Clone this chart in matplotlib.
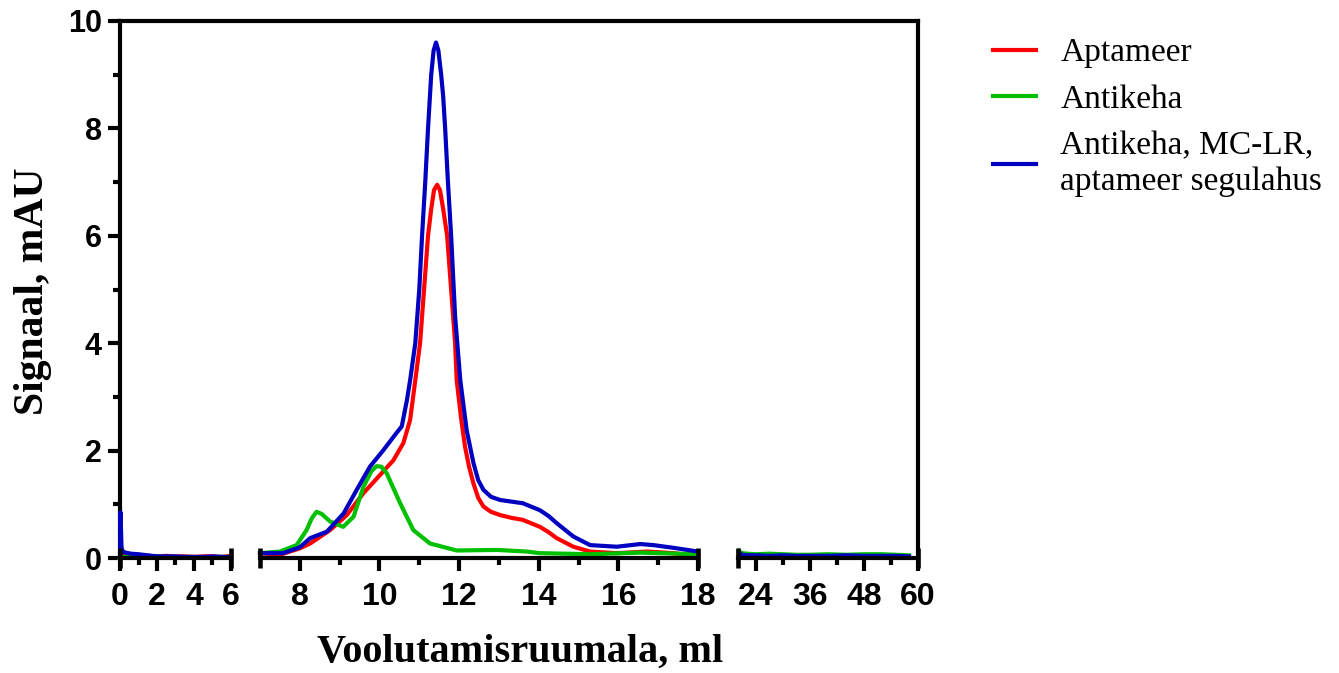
import numpy as np
import matplotlib.pyplot as plt

# elution volume (ml) and signal (mAU), per axis segment
# segment 1: 0-6 ml
x_seg1 = [0.0, 0.03, 0.08, 0.15, 0.3, 0.6, 1.0, 1.5, 2.0, 2.5, 3.0, 3.5, 4.0, 4.5, 5.0, 5.5, 6.0]
apt_seg1 = [0.0, 0.06, 0.12, 0.1, 0.08, 0.06, 0.05, 0.04, 0.03, 0.04, 0.03, 0.03, 0.02, 0.03, 0.03, 0.02, 0.04]
ab_seg1 = [-0.02, -0.01, 0.01, 0.02, 0.02, 0.02, 0.02, 0.02, 0.03, 0.02, 0.02, 0.02, 0.02, 0.01, 0.02, 0.02, 0.02]
mix_seg1 = [0.05, 0.85, 0.2, 0.12, 0.1, 0.08, 0.07, 0.05, 0.03, 0.03, 0.03, 0.02, 0.02, 0.02, 0.03, 0.02, 0.02]

# segment 2: 7-18 ml
x_apt = [7.0, 7.5, 8.0, 8.26, 8.76, 9.18, 9.6, 10.02, 10.35, 10.6, 10.77, 10.9, 11.02, 11.12,
         11.22, 11.3, 11.37, 11.45, 11.52, 11.6, 11.7, 11.8, 11.9, 11.94, 12.05, 12.15, 12.25,
         12.36, 12.48, 12.61, 12.8, 13.03, 13.3, 13.6, 14.03, 14.25, 14.45, 14.87, 15.29,
         15.96, 16.72, 17.38, 18.0]
apt_seg2 = [0.09, 0.06, 0.18, 0.27, 0.52, 0.8, 1.21, 1.55, 1.82, 2.14, 2.57, 3.31, 4.0, 5.0,
            6.0, 6.5, 6.85, 6.95, 6.85, 6.5, 6.0, 5.0, 4.0, 3.31, 2.6, 2.07, 1.7,
            1.39, 1.12, 0.96, 0.86, 0.8, 0.75, 0.71, 0.58, 0.48, 0.37, 0.21, 0.12,
            0.09, 0.12, 0.09, 0.04]

x_ab = [7.0, 7.5, 7.92, 8.17, 8.3, 8.42, 8.55, 8.76, 9.09, 9.35, 9.6, 9.8, 9.93, 10.05, 10.18,
        10.52, 10.85, 11.27, 11.94, 12.95, 13.7, 14.03, 15.29, 16.55, 18.0]
ab_seg2 = [0.09, 0.12, 0.24, 0.52, 0.74, 0.86, 0.82, 0.68, 0.58, 0.77, 1.33, 1.62, 1.71, 1.7, 1.58,
           1.02, 0.52, 0.27, 0.14, 0.15, 0.12, 0.09, 0.07, 0.1, 0.07]

x_mix = [7.0, 7.58, 8.0, 8.26, 8.68, 9.1, 9.43, 9.76, 10.1, 10.43, 10.56, 10.69, 10.77, 10.9,
         11.0, 11.07, 11.15, 11.22, 11.3, 11.36, 11.42, 11.48, 11.55, 11.6, 11.65, 11.72, 11.8,
         11.9, 12.03, 12.19, 12.36, 12.48, 12.61, 12.8, 13.03, 13.6, 14.03, 14.25, 14.45, 14.87,
         15.29, 15.96, 16.55, 16.88, 17.38, 18.0]
mix_seg2 = [0.09, 0.09, 0.2, 0.37, 0.49, 0.83, 1.27, 1.7, 2.01, 2.33, 2.45, 2.94, 3.31, 4.0,
            5.0, 6.0, 7.0, 8.0, 9.0, 9.45, 9.6, 9.45, 9.0, 8.6, 8.0, 7.0, 6.0,
            4.5, 3.31, 2.38, 1.77, 1.45, 1.27, 1.14, 1.08, 1.02, 0.89, 0.78, 0.65, 0.4,
            0.24, 0.21, 0.26, 0.24, 0.19, 0.12]

# segment 3: 20-60 ml
x_seg3 = [20.2, 20.6, 21.0, 22.0, 24.0, 27.0, 30.0, 33.0, 36.0, 40.0, 44.0, 48.0, 52.0, 55.0, 58.0]
apt_seg3 = [0.06, 0.04, 0.03, 0.03, 0.02, 0.02, 0.02, 0.02, 0.02, 0.02, 0.02, 0.02, 0.02, 0.02, 0.02]
ab_seg3 = [0.14, 0.1, 0.09, 0.08, 0.07, 0.08, 0.07, 0.06, 0.06, 0.07, 0.06, 0.07, 0.07, 0.06, 0.05]
mix_seg3 = [0.11, 0.07, 0.06, 0.05, 0.05, 0.04, 0.05, 0.04, 0.04, 0.04, 0.05, 0.04, 0.04, 0.04, 0.03]

labels = ["Aptameer", "Antikeha", "Antikeha, MC-LR,\naptameer segulahus"]
colors = ["#ff0000", "#00c000", "#0000c0"]

segments = [
    (0, 6, [x_seg1] * 3, [apt_seg1, ab_seg1, mix_seg1], [0, 2, 4, 6], [1, 3, 5]),
    (7, 18, [x_apt, x_ab, x_mix], [apt_seg2, ab_seg2, mix_seg2], [8, 10, 12, 14, 16, 18],
     [9, 11, 13, 15, 17]),
    (20, 60, [x_seg3] * 3, [apt_seg3, ab_seg3, mix_seg3], [24, 36, 48, 60], [30, 42, 54]),
]
positions = [(120, 231), (260, 698), (738, 918)]

W, H = 1339, 673
fig = plt.figure(figsize=(W / 100, H / 100), dpi=100)
top, bottom = 21, 558
lw_axis = 3.0

# frame: left, top and right spines spanning all segments
frame = fig.add_axes([120 / W, 1 - bottom / H, (918 - 120) / W, (bottom - top) / H])
frame.set_ylim(0, 10)
frame.set_xticks([])
frame.spines["bottom"].set_visible(False)
for s in ["left", "top", "right"]:
    frame.spines[s].set_linewidth(lw_axis)
frame.set_yticks([0, 2, 4, 6, 8, 10])
frame.set_yticks([1, 3, 5, 7, 9], minor=True)
frame.tick_params(axis="y", which="major", length=9, width=lw_axis, pad=4, labelsize=22)
frame.tick_params(axis="y", which="minor", length=5, width=lw_axis)
for t in frame.get_yticklabels():
    t.set_fontfamily("Liberation Sans")
    t.set_fontweight("bold")

handles = []
for (x0, x1, xs, ys, major, minor), (p0, p1) in zip(segments, positions):
    ax = fig.add_axes([p0 / W, 1 - bottom / H, (p1 - p0) / W, (bottom - top) / H])
    ax.patch.set_visible(False)
    for s in ["left", "top", "right"]:
        ax.spines[s].set_visible(False)
    ax.spines["bottom"].set_linewidth(lw_axis)
    ax.set_xlim(x0, x1)
    ax.set_ylim(0, 10)
    ax.set_yticks([])
    handles = []
    for x, y, c, lab in zip(xs, ys, colors, labels):
        (ln,) = ax.plot(x, y, color=c, lw=3.0, label=lab, clip_on=False,
                        solid_joinstyle="round")
        handles.append(ln)
    ax.set_xticks(major)
    ax.set_xticks(minor, minor=True)
    ax.tick_params(axis="x", which="major", length=9, width=lw_axis, pad=8, labelsize=23)
    ax.tick_params(axis="x", which="minor", length=5, width=lw_axis)
    for t in ax.get_xticklabels():
        t.set_fontfamily("Liberation Sans")
        t.set_fontweight("bold")
    # break caps at segment ends
    ax.plot([x0, x1], [0, 0], ls="none", marker="|", markersize=15, mew=lw_axis * 1.1,
            color="k", clip_on=False)

fig.text(520 / W, 1 - 652 / H, "Voolutamisruumala, ml", ha="center", va="center",
         fontsize=29, fontweight="bold", family="Liberation Serif")
fig.text(33 / W, 1 - 291 / H, "Signaal, mAU", ha="center", va="center", rotation=90,
         fontsize=30, fontweight="bold", family="Liberation Serif")

fig.legend(handles=handles, loc="upper left", bbox_to_anchor=(993 / W, 1 - 38 / H),
           frameon=False, borderpad=0, borderaxespad=0, handlelength=1.3,
           handletextpad=0.72, labelspacing=0.48,
           prop={"family": "Liberation Serif", "size": 24})

fig.savefig("out.png", dpi=100)
